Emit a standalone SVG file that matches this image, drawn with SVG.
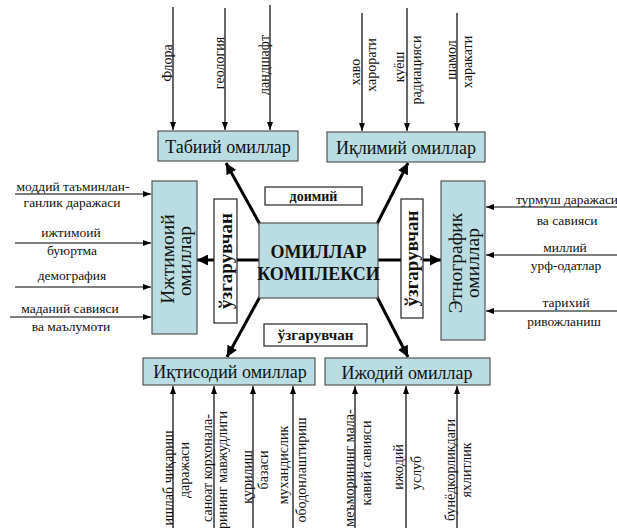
<svg xmlns="http://www.w3.org/2000/svg" width="617" height="528" viewBox="0 0 617 528">
<defs>
<marker id="a" markerUnits="userSpaceOnUse" markerWidth="8" markerHeight="6" refX="8" refY="3" orient="auto"><path d="M0,0 L8,3 L0,6 z" fill="#000"/></marker>
<marker id="b" markerUnits="userSpaceOnUse" markerWidth="11" markerHeight="11" refX="11" refY="5.5" orient="auto"><path d="M0,0 L11,5.5 L0,11 z" fill="#000"/></marker>
<style>
text{font-family:"Liberation Serif","Times New Roman",serif;fill:#111}
.box{fill:#b9dde2;stroke:#555;stroke-width:1.2}
.wb{fill:#fff;stroke:#222;stroke-width:1.2}
.t{font-size:18px;text-anchor:middle}
.tv{font-size:19.5px;text-anchor:middle}
.l{font-size:13.5px;text-anchor:middle}
.r{font-size:14px;text-anchor:middle}
.bd{font-weight:bold;text-anchor:middle}
.thin{stroke:#000;stroke-width:1.2;fill:none;marker-end:url(#a)}
.thick{stroke:#000;stroke-width:3;fill:none;marker-end:url(#b)}
</style>
</defs>
<g id="connectors">
<line class="thin" x1="173" y1="7" x2="173" y2="130"/>
<line class="thin" x1="225" y1="8" x2="225" y2="130"/>
<line class="thin" x1="270" y1="5" x2="270" y2="130"/>
<line class="thin" x1="362" y1="13" x2="362" y2="131"/>
<line class="thin" x1="407" y1="8" x2="407" y2="131"/>
<line class="thin" x1="457" y1="13" x2="457" y2="131"/>
<line class="thin" x1="15" y1="194" x2="151" y2="194"/>
<line class="thin" x1="15" y1="243" x2="151" y2="243"/>
<line class="thin" x1="15" y1="287" x2="151" y2="287"/>
<line class="thin" x1="10" y1="317" x2="151" y2="317"/>
<line class="thin" x1="617" y1="207" x2="486" y2="207"/>
<line class="thin" x1="617" y1="255" x2="486" y2="255"/>
<line class="thin" x1="617" y1="311" x2="486" y2="311"/>
<line class="thin" x1="173" y1="528" x2="173" y2="386"/>
<line class="thin" x1="214" y1="528" x2="214" y2="386"/>
<line class="thin" x1="253" y1="528" x2="253" y2="386"/>
<line class="thin" x1="293" y1="528" x2="293" y2="386"/>
<line class="thin" x1="355" y1="528" x2="355" y2="386"/>
<line class="thin" x1="406" y1="528" x2="406" y2="386"/>
<line class="thin" x1="457" y1="528" x2="457" y2="386"/>
<line class="thick" x1="262" y1="228" x2="226" y2="163"/>
<line class="thick" x1="375" y1="228" x2="408" y2="163"/>
<line class="thick" x1="262" y1="293" x2="227" y2="357"/>
<line class="thick" x1="375" y1="293" x2="408" y2="357"/>
<line class="thick" x1="259" y1="260" x2="197" y2="260"/>
<line class="thick" x1="378" y1="260" x2="441" y2="260"/>
</g>
<g id="labels-top">
<text class="r" transform="translate(172,63) rotate(-90)">Флора</text>
<text class="r" transform="translate(224,63) rotate(-90)">геология</text>
<text class="r" transform="translate(269,65) rotate(-90)">ландшафт</text>
<text class="r" transform="translate(360,72) rotate(-90)">хаво</text>
<text class="r" transform="translate(376,65) rotate(-90)">харорати</text>
<text class="r" transform="translate(404,67) rotate(-90)">куёш</text>
<text class="r" transform="translate(421,70) rotate(-90)">радиацияси</text>
<text class="r" transform="translate(456,60) rotate(-90)">шамол</text>
<text class="r" transform="translate(472,62) rotate(-90)">харакати</text>
</g>
<g id="labels-left">
<text class="l" x="73" y="191">моддий таъминлан-</text>
<text class="l" x="72" y="207">ганлик даражаси</text>
<text class="l" x="71" y="237">ижтимоий</text>
<text class="l" x="72" y="255">буюртма</text>
<text class="l" x="72" y="280">демография</text>
<text class="l" x="70" y="313">маданий савияси</text>
<text class="l" x="71" y="331">ва маълумоти</text>
</g>
<g id="labels-right">
<text class="l" x="567" y="204">турмуш даражаси</text>
<text class="l" x="567" y="225">ва савияси</text>
<text class="l" x="565" y="252">миллий</text>
<text class="l" x="566" y="270">урф-одатлар</text>
<text class="l" x="566" y="307">тарихий</text>
<text class="l" x="564" y="326">ривожланиш</text>
</g>
<g id="labels-bottom">
<text class="r" transform="translate(173,478) rotate(-90)">ишлаб чиқариш</text>
<text class="r" transform="translate(189,470) rotate(-90)">даражаси</text>
<text class="r" transform="translate(212,468) rotate(-90)">саноат корхонала-</text>
<text class="r" transform="translate(227,470) rotate(-90)">рининг мавжудлиги</text>
<text class="r" transform="translate(252,477) rotate(-90)">қурилиш</text>
<text class="r" transform="translate(268,470) rotate(-90)">базаси</text>
<text class="r" transform="translate(288,465) rotate(-90)">мухандислик</text>
<text class="r" transform="translate(306,470) rotate(-90)">ободонлаштириш</text>
<text class="r" transform="translate(354,468) rotate(-90)">меъморининг мала-</text>
<text class="r" transform="translate(371,463) rotate(-90)">кавий савияси</text>
<text class="r" transform="translate(403,467) rotate(-90)">ижодий</text>
<text class="r" transform="translate(421,473) rotate(-90)">услуб</text>
<text class="r" transform="translate(455,470) rotate(-90)">бунёдкорликдаги</text>
<text class="r" transform="translate(471,470) rotate(-90)">яхлитлик</text>
</g>
<g id="node-tabiiy"><rect class="box" x="158" y="131" width="140" height="30"/><text class="t" x="228" y="153">Табиий омиллар</text></g>
<g id="node-iqlimiy"><rect class="box" x="327" y="132" width="158" height="30"/><text class="t" x="406" y="154">Иқлимий омиллар</text></g>
<g id="node-ijtimoiy"><rect class="box" x="152" y="181" width="45" height="153"/><text class="tv" transform="translate(174,259) rotate(-90)">Ижтимоий</text><text class="tv" transform="translate(191,261) rotate(-90)">омиллар</text></g>
<g id="node-etnografik"><rect class="box" x="441" y="181" width="44" height="159"/><text class="tv" transform="translate(462,263) rotate(-90)">Этнографик</text><text class="tv" transform="translate(479,263) rotate(-90)">омиллар</text></g>
<g id="node-markaz"><rect class="box" x="259" y="223" width="119" height="75"/><text class="bd" style="font-size:18px" x="318.5" y="258">ОМИЛЛАР</text><text class="bd" style="font-size:18px" x="318.5" y="280">КОМПЛЕКСИ</text></g>
<g id="node-doimiy"><rect class="wb" x="265" y="187" width="97" height="18"/><text class="bd" style="font-size:14px" x="313.5" y="201">доимий</text></g>
<g id="node-uzg-left"><rect class="wb" x="214" y="199" width="23" height="124"/><text class="bd" style="font-size:19px" transform="translate(232,261) rotate(-90)">ўзгарувчан</text></g>
<g id="node-uzg-right"><rect class="wb" x="401" y="199" width="22" height="119"/><text class="bd" style="font-size:19px" transform="translate(418,258.5) rotate(-90)">ўзгарувчан</text></g>
<g id="node-uzg-bottom"><rect class="wb" x="264" y="324" width="103" height="22"/><text class="bd" style="font-size:15px" x="315.5" y="340">ўзгарувчан</text></g>
<g id="node-iqtisodiy"><rect class="box" x="143" y="358" width="172" height="27"/><text class="t" x="230" y="378">Иқтисодий омиллар</text></g>
<g id="node-ijodiy"><rect class="box" x="325" y="358" width="165" height="27"/><text class="t" x="407" y="379">Ижодий омиллар</text></g>
</svg>
